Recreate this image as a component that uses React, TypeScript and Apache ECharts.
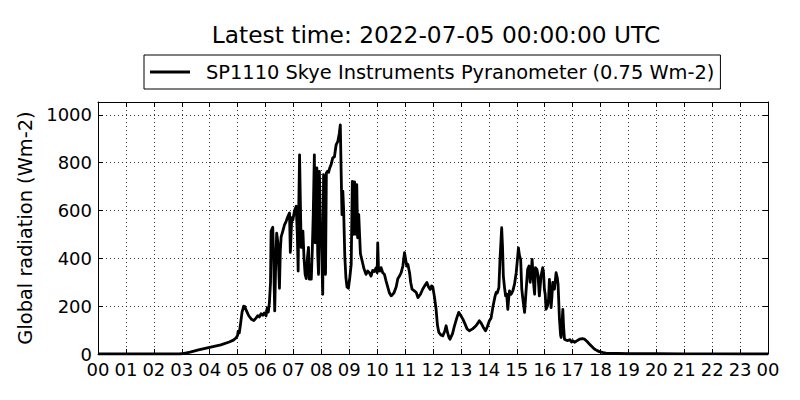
import React, { useEffect, useRef } from "react";
import * as echarts from "echarts";

const titleText = "Latest time: 2022-07-05 00:00:00 UTC";
const seriesName = "SP1110 Skye Instruments Pyranometer (0.75 Wm-2)";
const yAxisName = "Global radiation (Wm-2)";
const yTicks = [0, 200, 400, 600, 800, 1000];

// hour of day
const times = [
  0, 1, 2, 2.9, 3.0, 3.3, 3.6, 4.0, 4.4, 4.7, 4.85, 4.95, 5.0, 5.02, 5.06, 5.1, 5.16, 5.22, 5.26, 5.32,
  5.4, 5.5, 5.58, 5.66, 5.72, 5.78, 5.84, 5.9, 5.96, 6.02, 6.06, 6.1, 6.14, 6.18, 6.2, 6.26, 6.29, 6.33, 6.36, 6.4,
  6.44, 6.5, 6.53, 6.56, 6.62, 6.68, 6.74, 6.8, 6.86, 6.89, 6.94, 6.98, 7.04, 7.1, 7.14, 7.17, 7.19, 7.22, 7.26, 7.28,
  7.31, 7.34, 7.38, 7.42, 7.46, 7.5, 7.54, 7.57, 7.6, 7.64, 7.68, 7.71, 7.75, 7.78, 7.8, 7.84, 7.87, 7.9, 7.93, 7.97,
  8.01, 8.05, 8.08, 8.12, 8.15, 8.18, 8.22, 8.26, 8.3, 8.35, 8.41, 8.47, 8.53, 8.59, 8.64, 8.68, 8.71, 8.74, 8.77, 8.8,
  8.84, 8.88, 8.92, 8.97, 9.02, 9.07, 9.11, 9.14, 9.16, 9.19, 9.22, 9.25, 9.27, 9.3, 9.34, 9.37, 9.4, 9.46, 9.52, 9.6,
  9.66, 9.72, 9.78, 9.84, 9.9, 9.96, 10.0, 10.02, 10.05, 10.1, 10.14, 10.2, 10.26, 10.32, 10.38, 10.44, 10.5, 10.6, 10.68, 10.74,
  10.8, 10.86, 10.92, 10.98, 11.02, 11.06, 11.1, 11.16, 11.2, 11.25, 11.32, 11.4, 11.46, 11.55, 11.63, 11.7, 11.78, 11.84, 11.9, 11.95,
  11.99, 12.05, 12.11, 12.16, 12.21, 12.28, 12.35, 12.42, 12.47, 12.52, 12.57, 12.61, 12.7, 12.77, 12.85, 12.92, 13.0, 13.07, 13.15, 13.22,
  13.3, 13.42, 13.54, 13.6, 13.66, 13.72, 13.8, 13.88, 13.95, 14.02, 14.08, 14.15, 14.22, 14.26, 14.3, 14.36, 14.4, 14.46, 14.49, 14.52,
  14.56, 14.6, 14.64, 14.68, 14.71, 14.74, 14.8, 14.86, 14.92, 14.98, 15.02, 15.06, 15.1, 15.14, 15.18, 15.22, 15.28, 15.33, 15.39, 15.44,
  15.48, 15.52, 15.55, 15.6, 15.64, 15.67, 15.72, 15.76, 15.81, 15.87, 15.93, 15.96, 15.99, 16.02, 16.05, 16.1, 16.14, 16.17, 16.2, 16.23,
  16.26, 16.29, 16.35, 16.41, 16.45, 16.48, 16.53, 16.57, 16.59, 16.62, 16.65, 16.68, 16.71, 16.77, 16.83, 16.9, 16.96, 17.0, 17.07, 17.15,
  17.25, 17.35, 17.43, 17.52, 17.6, 17.7, 17.78, 17.88, 17.96, 18.1, 18.2, 18.4, 18.6, 19, 20, 21, 22, 23, 24,
];

// global radiation (Wm-2)
const values = [
  0, 0, 0, 0, 1, 8, 17, 28, 38, 50, 58, 68, 78, 95, 88, 120, 175, 200, 198, 180,
  160, 145, 140, 150, 160, 155, 168, 162, 172, 160, 192, 175, 215, 300, 514, 530, 400, 180, 350, 505,
  470, 275, 430, 490, 514, 540, 555, 575, 590, 425, 570, 560, 600, 618, 500, 347, 600, 833, 560, 446,
  500, 514, 400, 333, 315, 400, 446, 313, 360, 313, 450, 583, 833, 465, 583, 778, 420, 333, 764, 528,
  446, 250, 750, 500, 333, 757, 764, 760, 778, 792, 820, 825, 875, 889, 920, 958, 760, 583, 681, 600,
  410, 320, 280, 275, 320, 375, 722, 600, 500, 720, 600, 500, 708, 486, 583, 500, 420, 390, 360, 333,
  347, 340, 326, 350, 345, 361, 340, 465, 350, 347, 361, 340, 333, 305, 280, 255, 243, 255, 280, 315,
  326, 340, 368, 424, 395, 368, 375, 340, 300, 271, 265, 257, 236, 250, 271, 285, 299, 280, 270, 285,
  282, 240, 188, 120, 90, 80, 76, 95, 118, 90, 70, 62, 85, 118, 150, 174, 160, 146, 125, 105,
  97, 105, 118, 128, 139, 130, 112, 97, 115, 139, 150, 200, 240, 257, 255, 278, 396, 528, 450, 326,
  280, 243, 250, 187, 230, 264, 250, 264, 292, 340, 390, 444, 410, 396, 271, 230, 174, 257, 354, 368,
  300, 340, 396, 299, 250, 361, 354, 330, 243, 326, 361, 340, 271, 250, 187, 201, 230, 312, 250, 194,
  240, 299, 271, 340, 320, 292, 146, 80, 69, 120, 187, 110, 62, 58, 56, 60, 50, 56, 49, 55,
  62, 64, 62, 52, 42, 30, 21, 14, 10, 6, 4, 3, 2, 1, 1, 0.5, 0.5, 0, 0,
];

const FONT = "DejaVu Sans";
const yMax = 1054;

function pad2(v: number): string {
  const h = Math.round(v) % 24;
  return h < 10 ? "0" + h : String(h);
}

export default function App() {
  const ref = useRef<HTMLDivElement>(null);
  useEffect(() => {
    if (!ref.current) return;
    const chart = echarts.init(ref.current, undefined, { renderer: "svg" });
    const data = times.map((t, i) => [t, values[i]]);
    const gridLine = { show: true, lineStyle: { color: "#000", width: 0.8, type: [1, 3] as any } };
    const xCommon = { type: "value" as const, min: 0, max: 24, interval: 1 };
    const yCommon = { type: "value" as const, min: 0, max: yMax, interval: 200 };
    chart.setOption({
      animation: false,
      textStyle: { fontFamily: FONT },
      title: {
        text: titleText,
        left: 431,
        top: 18,
        textAlign: "center",
        textStyle: { fontFamily: FONT, fontSize: 23.3, fontWeight: "normal", color: "#000" },
      },
      legend: {
        left: 144,
        top: 55,
        padding: [6, 6, 6, 6],
        borderColor: "#000",
        borderWidth: 1,
        borderRadius: 0,
        itemWidth: 40,
        itemHeight: 14,
        textStyle: { fontFamily: FONT, fontSize: 19.4, color: "#000", lineHeight: 22, padding: [0, 0, 0, 11] },
        data: [{ name: seriesName, icon: "path://M0,5.6 L40,5.6 L40,8.4 L0,8.4 Z", itemStyle: { color: "#000" } }],
      },
      grid: { left: 98, right: 32, top: 102, bottom: 46 },
      xAxis: [
        {
          ...xCommon,
          position: "bottom",
          axisLine: { show: true, onZero: false, lineStyle: { color: "#000", width: 1 } },
          axisTick: { show: true, inside: true, length: 5, lineStyle: { color: "#000" } },
          axisLabel: {
            show: true,
            interval: 0,
            margin: 8,
            fontFamily: FONT,
            fontSize: 18,
            lineHeight: 14,
            color: "#000",
            formatter: (v: number) => pad2(v),
          },
          splitLine: gridLine,
        },
        {
          ...xCommon,
          position: "top",
          axisLine: { show: true, onZero: false, lineStyle: { color: "#000", width: 1 } },
          axisTick: { show: true, inside: true, length: 5, lineStyle: { color: "#000" } },
          axisLabel: { show: false },
          splitLine: { show: false },
        },
      ],
      yAxis: [
        {
          ...yCommon,
          position: "left",
          name: yAxisName,
          nameLocation: "middle",
          nameRotate: 90,
          nameGap: 54,
          nameTextStyle: { fontFamily: FONT, fontSize: 19.4, color: "#000" },
          axisLine: { show: true, onZero: false, lineStyle: { color: "#000", width: 1 } },
          axisTick: { show: true, inside: true, length: 5, lineStyle: { color: "#000" } },
          axisLabel: {
            show: true,
            margin: 6,
            fontFamily: FONT,
            fontSize: 18,
            lineHeight: 14,
            color: "#000",
            formatter: (v: number) => (yTicks.indexOf(v) >= 0 ? String(v) : ""),
          },
          splitLine: gridLine,
        },
        {
          ...yCommon,
          position: "right",
          axisLine: { show: true, onZero: false, lineStyle: { color: "#000", width: 1 } },
          axisTick: { show: true, inside: true, length: 5, lineStyle: { color: "#000" } },
          axisLabel: { show: false },
          splitLine: { show: false },
        },
      ],
      series: [
        {
          name: seriesName,
          type: "line",
          xAxisIndex: 0,
          yAxisIndex: 0,
          data,
          showSymbol: false,
          symbol: "none",
          lineStyle: { color: "#000", width: 2.8, join: "round" },
          itemStyle: { color: "#000" },
        },
      ],
    });
    return () => chart.dispose();
  }, []);
  return (
    <div
      ref={ref}
      style={{ position: "fixed", left: 0, top: 0, width: 800, height: 400, background: "#fff" }}
    />
  );
}
